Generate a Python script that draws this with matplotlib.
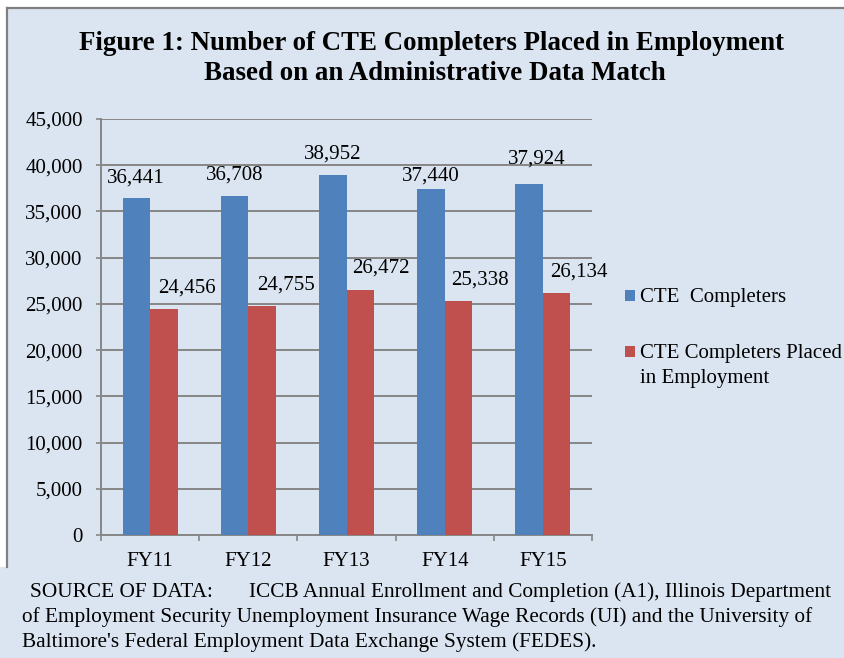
import numpy as np
import matplotlib.pyplot as plt
from matplotlib.patches import Rectangle
from matplotlib.lines import Line2D
from matplotlib.ticker import FuncFormatter

# ── Data ─────────────────────────────────────────────────────────────────────
years       = ['FY11', 'FY12', 'FY13', 'FY14', 'FY15']
completers  = [36441, 36708, 38952, 37440, 37924]
placed      = [24456, 24755, 26472, 25338, 26134]
series_names = ['CTE  Completers', 'CTE Completers Placed\nin Employment']

title_lines = ['Figure 1: Number of CTE Completers Placed in Employment',
               'Based on an Administrative Data Match']
source_head = 'SOURCE OF DATA:'
source_body = ['ICCB Annual Enrollment and Completion (A1), Illinois Department',
               'of Employment Security Unemployment Insurance Wage Records (UI) and the University of',
               "Baltimore's Federal Employment Data Exchange System (FEDES)."]

# ── Style ────────────────────────────────────────────────────────────────────
W, H   = 844, 658
BG     = '#DBE5F1'
BLUE   = '#4F81BD'
RED    = '#C0504D'
GRID   = '#868686'
FONT   = 'Liberation Serif'
plt.rcParams['font.family'] = FONT

# label nudges in pixels (Excel placed them by hand)
blue_dx = [-1, 0, 0, 0, 8]
blue_dy = [16, 16, 16, 8.6, 20.6]
red_dx  = [23, 24, 21, 21, 22]
red_dy  = [16, 17, 17.4, 16, 16.5]

def fx(px):
    return px / W

def fy(px):
    return 1 - px / H

fig = plt.figure(figsize=(W / 100, H / 100), dpi=100)
fig.patch.set_facecolor('white')

# chart panel + source box backgrounds
fig.add_artist(Rectangle((fx(7), 0), 1 - fx(7), fy(7), transform=fig.transFigure,
                         facecolor=BG, edgecolor='none', zorder=0))
fig.add_artist(Rectangle((0, 0), 1, fy(567), transform=fig.transFigure,
                         facecolor=BG, edgecolor='none', zorder=0))
fig.add_artist(Line2D([fx(7), 1], [fy(7.5), fy(7.5)], transform=fig.transFigure,
                      color='#808080', lw=1.6, zorder=1))
fig.add_artist(Line2D([fx(7), fx(7)], [fy(7.5), fy(567)], transform=fig.transFigure,
                      color='#808080', lw=1.6, zorder=1))

# ── Axes ─────────────────────────────────────────────────────────────────────
ax = fig.add_axes([fx(101), fy(535), fx(592) - fx(101), fy(119) - fy(535)])
ax.set_facecolor('none')
x = np.arange(len(years))
bw = 0.281
b1 = ax.bar(x - bw / 2, completers, bw, color=BLUE, zorder=3)
b2 = ax.bar(x + bw / 2, placed, bw, color=RED, zorder=3)

ax.set_ylim(0, 45000)
ax.set_xlim(-0.5, len(years) - 0.5)
ax.set_yticks(np.arange(0, 45001, 5000))
ax.yaxis.set_major_formatter(FuncFormatter(lambda v, p: f'{int(v):,}'))
ax.yaxis.grid(True, color=GRID, lw=1.4, zorder=0)
ax.set_axisbelow(True)

ax.set_xticks(np.arange(-0.5, len(years), 1.0))
ax.set_xticklabels([])
ax.set_xticks(x, minor=True)
ax.set_xticklabels(years, minor=True)
ax.tick_params(axis='x', which='major', length=4.3, width=1.2, color=GRID, direction='out')
ax.tick_params(axis='x', which='minor', length=0, pad=12.5, labelsize=15)
ax.tick_params(axis='y', length=3.8, width=1.2, color=GRID, direction='out',
               pad=9.4, labelsize=15)

for s in ['top', 'right']:
    ax.spines[s].set_visible(False)
for s in ['left', 'bottom']:
    ax.spines[s].set_color(GRID)
    ax.spines[s].set_linewidth(1.4)

# value labels
for i in range(len(years)):
    ax.annotate(f'{completers[i]:,}', xy=(x[i] - bw / 2, completers[i]),
                xytext=(blue_dx[i] * 0.72, blue_dy[i] * 0.72), textcoords='offset points',
                ha='center', va='baseline', fontsize=15, zorder=4)
    ax.annotate(f'{placed[i]:,}', xy=(x[i] + bw / 2, placed[i]),
                xytext=(red_dx[i] * 0.72, red_dy[i] * 0.72), textcoords='offset points',
                ha='center', va='baseline', fontsize=15, zorder=4)

# ── Legend (drawn by hand to match Excel layout) ─────────────────────────────
for col, top_px in [(BLUE, 290), (RED, 346)]:
    fig.add_artist(Rectangle((fx(625), fy(top_px + 11)), fx(10), 11 / H,
                             transform=fig.transFigure, facecolor=col, edgecolor='none'))
fig.text(fx(640), fy(302.3), series_names[0], fontsize=15, va='baseline', ha='left')
fig.text(fx(640), fy(358.3), series_names[1].split('\n')[0], fontsize=15, va='baseline', ha='left')
fig.text(fx(640), fy(383.3), series_names[1].split('\n')[1], fontsize=15, va='baseline', ha='left')

# ── Title ────────────────────────────────────────────────────────────────────
fig.text(fx(432), fy(50.5), title_lines[0], fontsize=19.4, fontweight='bold',
         ha='center', va='baseline')
fig.text(fx(435), fy(80), title_lines[1], fontsize=19.4, fontweight='bold',
         ha='center', va='baseline')

# ── Source note ──────────────────────────────────────────────────────────────
fig.text(fx(30), fy(596.7), source_head, fontsize=15.3, va='baseline', ha='left')
fig.text(fx(249), fy(596.7), source_body[0], fontsize=15.3, va='baseline', ha='left')
fig.text(fx(21.5), fy(621.7), source_body[1], fontsize=15.3, va='baseline', ha='left')
fig.text(fx(21.5), fy(646.7), source_body[2], fontsize=15.3, va='baseline', ha='left')

fig.savefig('out.png', dpi=100, facecolor=fig.get_facecolor())
